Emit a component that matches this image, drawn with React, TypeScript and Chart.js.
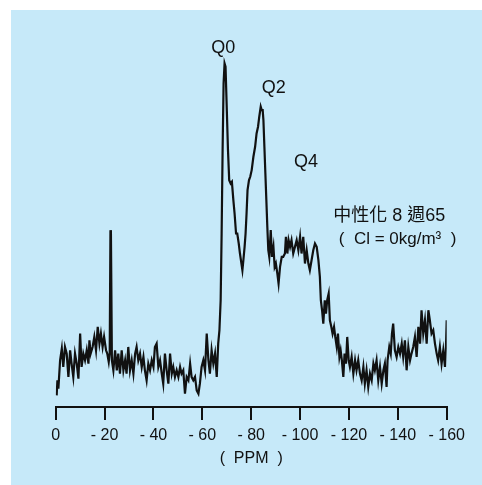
import { useEffect, useRef } from "react";
import { Chart, registerables } from "chart.js";

Chart.register(...registerables);

// chemical shift (ppm) and signal intensity
const ppm = [
  -0.4, -0.7, -1.1, -1.8, -2.5, -3.1, -3.8, -4.5, -5.2, -5.9, -6.5, -7.2, -7.9, -8.6, -9.3, -10.0,
  -10.6, -11.3, -12.0, -12.7, -13.4, -13.8, -14.3, -15.1, -15.8, -16.5, -17.2, -17.9, -18.5, -19.2,
  -19.8, -20.6, -21.1, -21.7, -22.1, -22.4, -22.6, -23.0, -23.6, -24.3, -25.0, -25.6, -26.3, -27.0,
  -27.7, -28.4, -29.0, -29.7, -30.4, -31.1, -31.8, -32.5, -33.1, -33.8, -34.5, -35.2, -35.9, -36.5,
  -37.2, -37.9, -38.6, -39.3, -40.0, -40.6, -41.3, -42.0, -42.7, -43.4, -44.0, -44.7, -45.4, -46.1,
  -46.8, -47.5, -48.1, -48.8, -49.5, -50.2, -50.9, -51.5, -52.2, -52.9, -53.6, -54.3, -55.0, -55.6,
  -56.3, -57.0, -57.7, -58.4, -59.0, -59.7, -60.4, -61.1, -61.8, -62.5, -63.1, -63.8, -64.5, -65.2,
  -65.9, -66.5, -67.0, -67.5, -67.9, -68.3, -68.7, -69.1, -69.5, -69.9, -70.5, -71.0, -71.6, -72.1,
  -72.7, -73.2, -73.8, -74.3, -74.9, -75.4, -76.0, -76.4, -76.8, -77.3, -77.7, -78.1, -78.5, -79.1,
  -79.6, -80.2, -80.9, -81.6, -82.2, -82.8, -83.3, -83.9, -84.3, -84.7, -85.0, -85.4, -85.8, -86.2,
  -86.6, -87.0, -87.4, -88.0, -88.5, -89.1, -89.6, -90.1, -90.7, -91.2, -91.8, -92.5, -93.1, -93.8,
  -94.2, -94.8, -95.3, -95.9, -96.5, -97.2, -97.9, -98.6, -99.3, -100.0, -100.6, -101.3, -102.0,
  -102.7, -103.4, -104.0, -104.7, -105.4, -106.1, -106.8, -107.5, -108.1, -108.5, -109.0, -109.5,
  -110.1, -110.6, -111.1, -111.7, -112.2, -112.8, -113.3, -113.9, -114.4, -115.0, -115.5, -116.1,
  -116.6, -117.1, -117.7, -118.2, -118.8, -119.3, -119.9, -120.4, -121.1, -121.8, -122.5, -123.1,
  -123.8, -124.5, -125.2, -125.9, -126.5, -127.2, -127.9, -128.6, -129.3, -130.0, -130.6, -131.3,
  -132.0, -132.7, -133.4, -134.1, -134.7, -135.4, -135.8, -136.5, -137.1, -137.6, -138.1, -138.8,
  -139.5, -140.2, -140.9, -141.6, -142.2, -142.9, -143.6, -144.3, -145.0, -145.6, -146.3, -147.0,
  -147.7, -148.4, -149.1, -149.7, -150.4, -151.1, -151.8, -152.5, -153.1, -153.8, -154.5, -155.2,
  -155.9, -156.5, -157.2, -157.9, -158.6, -159.3, -159.7, -160.0,
];

const intensity = [
  3.5, 8, 5.5, 14, 17.5, 12, 18, 16, 9, 17, 13, 9, 16, 13, 8.5, 22,
  12, 16, 14, 17, 13, 20, 16, 18, 21, 17, 24, 19, 22, 18,
  21, 17, 16, 13.5, 16, 53, 52, 14, 11, 17, 11, 16, 10, 17,
  11, 14, 10, 18, 11, 14, 10, 16, 18, 14, 16, 12, 15, 11,
  8, 13, 11, 14, 12, 18, 19, 12, 14, 10, 7, 16, 11, 7,
  16, 10, 12, 9, 11, 9, 12, 10, 11, 4, 9, 8, 13, 9,
  8, 9, 5, 4, 7, 12, 14, 11, 22, 14, 10, 17, 13, 16,
  9, 19, 23, 32, 52, 77, 97, 103, 102, 92, 77, 68, 67, 67.5,
  62, 58, 52, 52, 49, 46, 43, 41, 44, 48, 52, 58, 65, 68,
  69, 71, 75, 78, 82, 84, 87, 90, 89, 89, 86, 78, 70, 62,
  54, 47, 45, 53, 45, 48, 42, 43, 40, 37, 42, 45, 45, 46,
  51, 46, 50, 48, 50, 46, 48, 50, 47, 51, 46, 51, 43,
  47, 43, 41, 44, 47, 49, 48, 44, 39, 32, 29, 25,
  32, 28, 32, 34, 26, 24, 22, 24, 21, 18, 22, 15,
  17, 14, 9, 16, 13, 21, 14, 12, 15, 10, 14, 11,
  14, 10, 8, 12, 7, 11, 6, 10, 8, 13, 11, 14,
  8, 12, 7, 11, 13, 6, 14, 18, 16, 22, 25, 17,
  15, 18, 16, 19, 15, 20, 11, 18, 14, 16, 18, 21,
  15, 24, 19, 29, 22, 26, 19, 29, 26, 22, 23, 19,
  16, 14, 18, 13, 17, 12, 18, 26,
];

const tickValues = [0, -20, -40, -60, -80, -100, -120, -140, -160];
const tickLabels = ["0", "- 20", "- 40", "- 60", "- 80", "- 100", "- 120", "- 140", "- 160"];
const axisTitle = "(  PPM  )";

const noteTexts = ["Q0", "Q2", "Q4", "中性化 8 週65", "(  Cl = 0kg/m³  )"];
const notePpm = [-68.6, -89.2, -102.4, -136.5, -139.9];
const noteIntensity = [107.5, 95.5, 73.3, 57.2, 50.2];
const noteSizes = [18, 18, 18, 18, 17];

const FONT = "'Liberation Sans', Arial, 'Noto Sans CJK TC', sans-serif";

const notesPlugin = {
  id: "notes",
  afterDatasetsDraw(chart: any) {
    const { ctx, scales } = chart;
    ctx.save();
    ctx.fillStyle = "#111";
    ctx.textAlign = "center";
    ctx.textBaseline = "middle";
    noteTexts.forEach((t, i) => {
      ctx.font = `${noteSizes[i]}px ${FONT}`;
      ctx.fillText(t, scales.x.getPixelForValue(notePpm[i]), scales.y.getPixelForValue(noteIntensity[i]));
    });
    ctx.restore();
  },
};

export default function App() {
  const ref = useRef<HTMLCanvasElement | null>(null);
  useEffect(() => {
    if (!ref.current) return;
    const chart = new Chart(ref.current, {
      type: "line",
      data: {
        datasets: [
          {
            data: ppm.map((x, i) => ({ x, y: intensity[i] })),
            borderColor: "#111",
            borderWidth: 2.2,
            pointRadius: 0,
            tension: 0,
            fill: false,
          },
        ],
      },
      options: {
        animation: false,
        responsive: false,
        maintainAspectRatio: false,
        layout: { padding: { left: 44.7, right: 35.3, top: 30, bottom: 0 } },
        plugins: { legend: { display: false }, tooltip: { enabled: false } },
        scales: {
          x: {
            type: "linear",
            min: -160,
            max: 0,
            reverse: true,
            afterFit: (s: any) => {
              s.height = 78;
              s.paddingLeft = 0;
              s.paddingRight = 0;
            },
            afterBuildTicks: (s: any) => {
              s.ticks = tickValues.map((v) => ({ value: v }));
            },
            border: { display: true, color: "#111", width: 2 },
            grid: {
              display: true,
              drawOnChartArea: false,
              drawTicks: true,
              tickLength: 13,
              color: "#111",
              lineWidth: 2,
            },
            ticks: {
              padding: 6,
              color: "#111",
              font: { family: FONT, size: 16 },
              maxRotation: 0,
              autoSkip: false,
              callback: (v: any) => tickLabels[tickValues.indexOf(Number(v))] ?? "",
            },
            title: {
              display: true,
              text: axisTitle,
              color: "#111",
              font: { family: FONT, size: 16 },
              padding: { top: 0, bottom: 17 },
            },
          },
          y: { display: false, min: 0, max: 110 },
        },
      },
      plugins: [notesPlugin],
    });
    return () => chart.destroy();
  }, []);
  return (
    <div
      style={{
        position: "fixed",
        left: 11,
        top: 10,
        width: 471,
        height: 475,
        background: "rgb(198,233,249)",
      }}
    >
      <canvas ref={ref} width={471} height={475} style={{ display: "block" }} />
    </div>
  );
}
